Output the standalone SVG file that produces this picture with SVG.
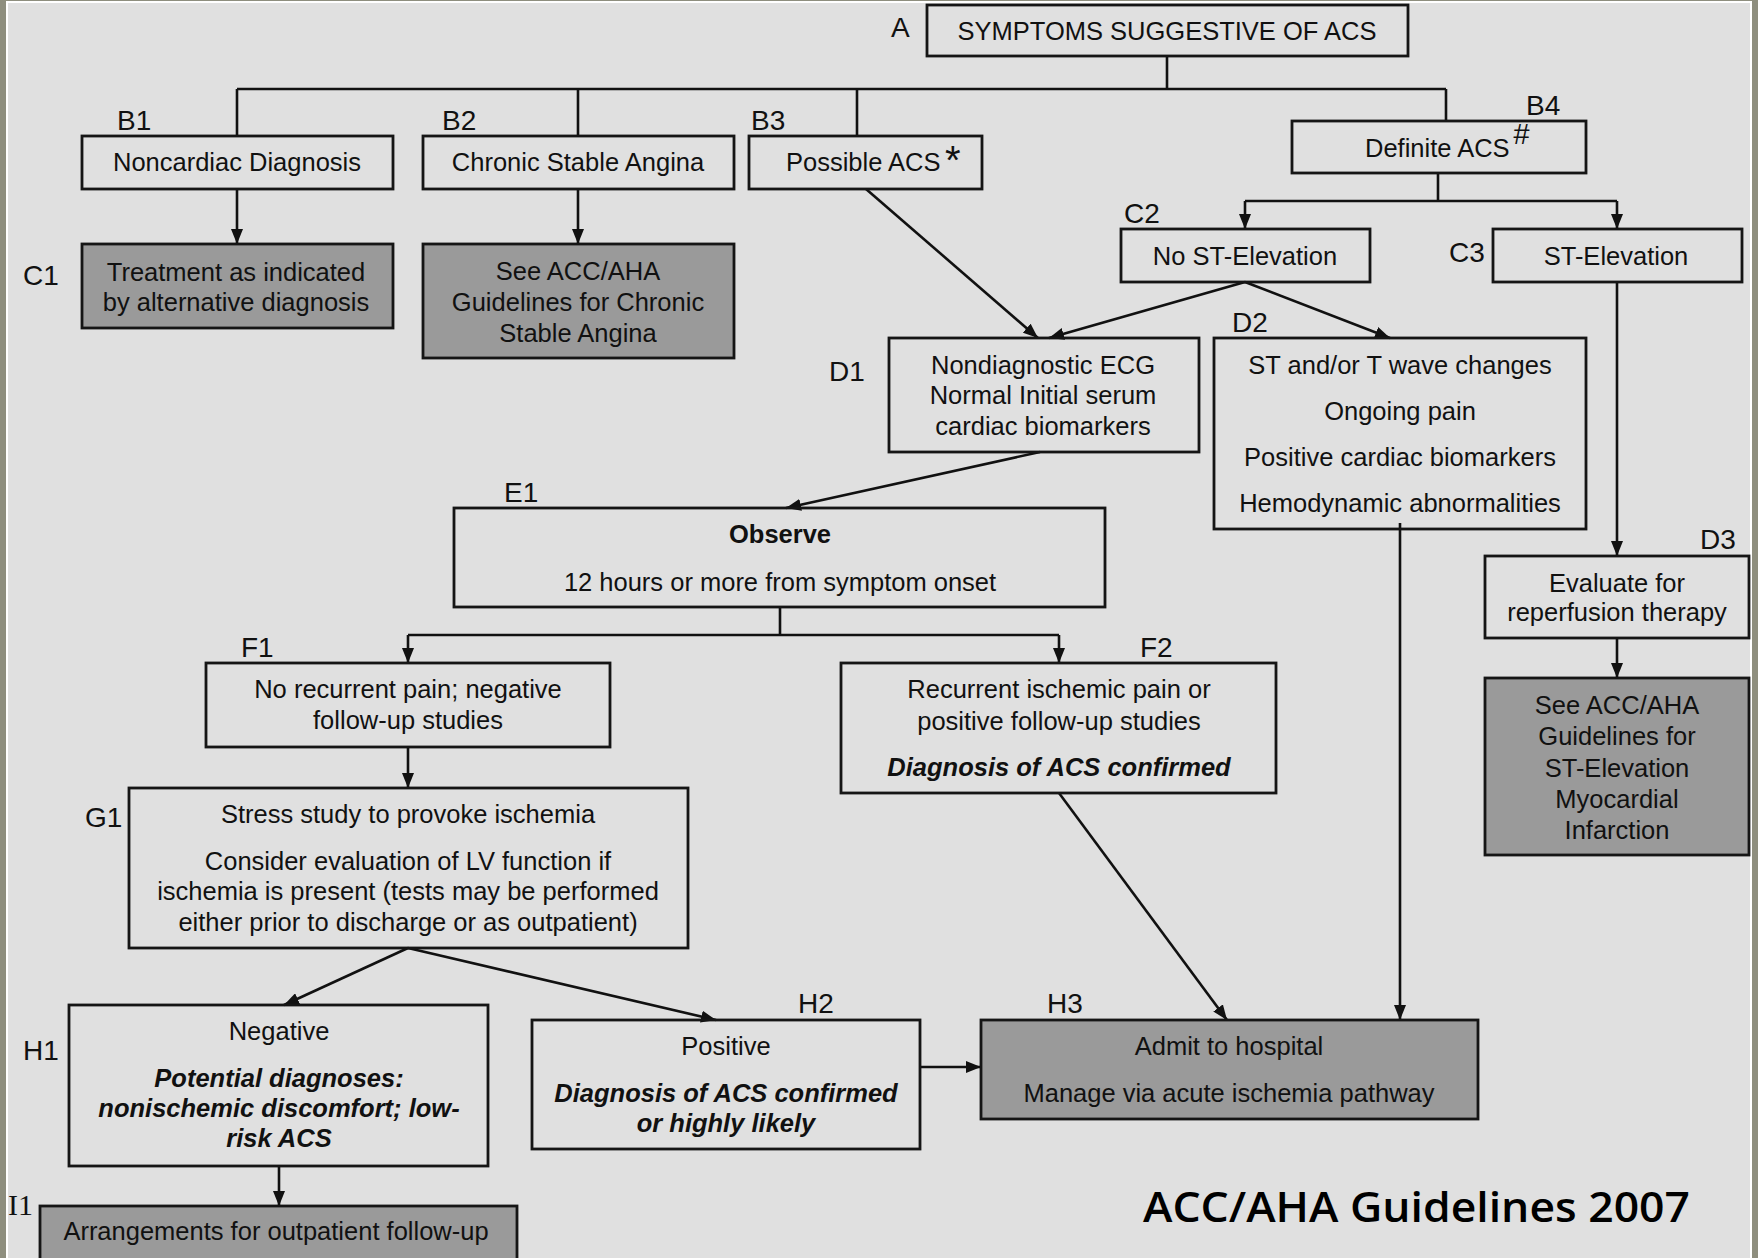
<svg xmlns="http://www.w3.org/2000/svg" width="1758" height="1258" viewBox="0 0 1758 1258">
<defs>
<marker id="arr" markerUnits="userSpaceOnUse" markerWidth="15" markerHeight="12" refX="15" refY="6" orient="auto">
<path d="M0,0 L15,6 L0,12 z" fill="#111"/>
</marker>
<style>
.box{fill:none;stroke:#151515;stroke-width:2.8}
.gbox{fill:#9a9a9a;stroke:#151515;stroke-width:2.8}
.t{font-family:"Liberation Sans",Arial,sans-serif;font-size:25.5px;fill:#111;text-anchor:middle}
.bi{font-weight:bold;font-style:italic}
.b{font-weight:bold}
.lbl{font-family:"Liberation Sans",Arial,sans-serif;font-size:28px;fill:#111}
.ln{fill:none;stroke:#111;stroke-width:2.6}
.la{fill:none;stroke:#111;stroke-width:2.6;marker-end:url(#arr)}
</style>
</defs>
<rect x="0" y="0" width="1758" height="1258" fill="#8e8e7e"/>
<rect x="6" y="1" width="1746" height="1257" fill="#ffffff"/>
<rect x="8" y="3" width="1742" height="1255" fill="#e0e0e0"/>

<g id="connectors">
<path class="ln" d="M1167,57 V89 M237,89 H1446 M237,89 V136 M578,89 V136 M857,89 V136 M1446,89 V121"/>
<path class="la" d="M237,189 V244"/>
<path class="la" d="M578,189 V244"/>
<path class="ln" d="M1438,173 V201 M1245,201 H1617"/>
<path class="la" d="M1245,201 V229"/>
<path class="la" d="M1617,201 V229"/>
<path class="la" d="M866,189 L1038,338"/>
<path class="la" d="M1245,282 L1049,338"/>
<path class="la" d="M1245,282 L1390,338"/>
<path class="la" d="M1617,282 V556"/>
<path class="la" d="M1617,638 V678"/>
<path class="la" d="M1040,452 L786,508"/>
<path class="ln" d="M780,607 V635 M408,635 H1059"/>
<path class="la" d="M408,635 V663"/>
<path class="la" d="M1059,635 V663"/>
<path class="la" d="M408,747 V788"/>
<path class="la" d="M408,948 L284,1005"/>
<path class="la" d="M408,948 L716,1020"/>
<path class="la" d="M279,1166 V1206"/>
<path class="la" d="M920,1067 H981"/>
<path class="la" d="M1059,793 L1227,1020"/>
<path class="la" d="M1400,523 V1020"/>
</g>

<g id="A">
<rect class="box" x="927" y="5" width="481" height="51"/>
<text class="lbl" x="891" y="37">A</text>
<text class="t" x="1167" y="40">SYMPTOMS SUGGESTIVE OF ACS</text>
</g>

<g id="B1">
<rect class="box" x="82" y="136" width="311" height="53"/>
<text class="lbl" x="117" y="130">B1</text>
<text class="t" x="237" y="171">Noncardiac Diagnosis</text>
</g>

<g id="B2">
<rect class="box" x="423" y="136" width="311" height="53"/>
<text class="lbl" x="442" y="130">B2</text>
<text class="t" x="578" y="171">Chronic Stable Angina</text>
</g>

<g id="B3">
<rect class="box" x="749" y="136" width="233" height="53"/>
<text class="lbl" x="751" y="130">B3</text>
<text class="t" x="786" y="171" style="text-anchor:start">Possible ACS</text>
<text class="t" x="945" y="174" style="text-anchor:start;font-size:40px">*</text>
</g>

<g id="B4">
<rect class="box" x="1292" y="121" width="294" height="52"/>
<text class="lbl" x="1526" y="115">B4</text>
<text class="t" x="1365" y="157" style="text-anchor:start">Definite ACS</text>
<text class="t" x="1513" y="144" style="text-anchor:start;font-style:italic;font-size:29px">#</text>
</g>

<g id="C1">
<rect class="gbox" x="82" y="244" width="311" height="84"/>
<text class="lbl" x="23" y="285">C1</text>
<text class="t" x="236" y="281">Treatment as indicated</text>
<text class="t" x="236" y="311">by alternative diagnosis</text>
</g>

<g id="C1b">
<rect class="gbox" x="423" y="244" width="311" height="114"/>
<text class="t" x="578" y="280">See ACC/AHA</text>
<text class="t" x="578" y="311">Guidelines for Chronic</text>
<text class="t" x="578" y="342">Stable Angina</text>
</g>

<g id="C2">
<rect class="box" x="1121" y="229" width="249" height="53"/>
<text class="lbl" x="1124" y="223">C2</text>
<text class="t" x="1245" y="265">No ST-Elevation</text>
</g>

<g id="C3">
<rect class="box" x="1493" y="229" width="249" height="53"/>
<text class="lbl" x="1449" y="262">C3</text>
<text class="t" x="1616" y="265">ST-Elevation</text>
</g>

<g id="D1">
<rect class="box" x="889" y="338" width="310" height="114"/>
<text class="lbl" x="829" y="381">D1</text>
<text class="t" x="1043" y="374">Nondiagnostic ECG</text>
<text class="t" x="1043" y="404">Normal Initial serum</text>
<text class="t" x="1043" y="435">cardiac biomarkers</text>
</g>

<g id="D2">
<rect class="box" x="1214" y="338" width="372" height="191"/>
<text class="lbl" x="1232" y="332">D2</text>
<text class="t" x="1400" y="374">ST and/or T wave changes</text>
<text class="t" x="1400" y="420">Ongoing pain</text>
<text class="t" x="1400" y="466">Positive cardiac biomarkers</text>
<text class="t" x="1400" y="512">Hemodynamic abnormalities</text>
</g>

<g id="D3">
<rect class="box" x="1485" y="556" width="264" height="82"/>
<text class="lbl" x="1700" y="549">D3</text>
<text class="t" x="1617" y="592">Evaluate for</text>
<text class="t" x="1617" y="621">reperfusion therapy</text>
</g>

<g id="D3b">
<rect class="gbox" x="1485" y="678" width="264" height="177"/>
<text class="t" x="1617" y="714">See ACC/AHA</text>
<text class="t" x="1617" y="745">Guidelines for</text>
<text class="t" x="1617" y="777">ST-Elevation</text>
<text class="t" x="1617" y="808">Myocardial</text>
<text class="t" x="1617" y="839">Infarction</text>
</g>

<g id="E1">
<rect class="box" x="454" y="508" width="651" height="99"/>
<text class="lbl" x="504" y="502">E1</text>
<text class="t b" x="780" y="543">Observe</text>
<text class="t" x="780" y="591">12 hours or more from symptom onset</text>
</g>

<g id="F1">
<rect class="box" x="206" y="663" width="404" height="84"/>
<text class="lbl" x="241" y="657">F1</text>
<text class="t" x="408" y="698">No recurrent pain; negative</text>
<text class="t" x="408" y="729">follow-up studies</text>
</g>

<g id="F2">
<rect class="box" x="841" y="663" width="435" height="130"/>
<text class="lbl" x="1140" y="657">F2</text>
<text class="t" x="1059" y="698">Recurrent ischemic pain or</text>
<text class="t" x="1059" y="730">positive follow-up studies</text>
<text class="t bi" x="1059" y="776">Diagnosis of ACS confirmed</text>
</g>

<g id="G1">
<rect class="box" x="129" y="788" width="559" height="160"/>
<text class="lbl" x="85" y="827">G1</text>
<text class="t" x="408" y="823">Stress study to provoke ischemia</text>
<text class="t" x="408" y="870">Consider evaluation of LV function if</text>
<text class="t" x="408" y="900">ischemia is present (tests may be performed</text>
<text class="t" x="408" y="931">either prior to discharge or as outpatient)</text>
</g>

<g id="H1">
<rect class="box" x="69" y="1005" width="419" height="161"/>
<text class="lbl" x="23" y="1060">H1</text>
<text class="t" x="279" y="1040">Negative</text>
<text class="t bi" x="279" y="1087">Potential diagnoses:</text>
<text class="t bi" x="279" y="1117">nonischemic discomfort; low-</text>
<text class="t bi" x="279" y="1147">risk ACS</text>
</g>

<g id="H2">
<rect class="box" x="532" y="1020" width="388" height="129"/>
<text class="lbl" x="798" y="1013">H2</text>
<text class="t" x="726" y="1055">Positive</text>
<text class="t bi" x="726" y="1102">Diagnosis of ACS confirmed</text>
<text class="t bi" x="726" y="1132">or highly likely</text>
</g>

<g id="H3">
<rect class="gbox" x="981" y="1020" width="497" height="99"/>
<text class="lbl" x="1047" y="1013">H3</text>
<text class="t" x="1229" y="1055">Admit to hospital</text>
<text class="t" x="1229" y="1102">Manage via acute ischemia pathway</text>
</g>

<g id="I1">
<rect class="gbox" x="40" y="1206" width="477" height="60"/>
<text x="8" y="1215" style="font-family:'Liberation Serif','Times New Roman',serif;font-size:30px;fill:#111">I1</text>
<text class="t" x="276" y="1240">Arrangements for outpatient follow-up</text>
</g>

<text x="1143" y="1222" textLength="547" lengthAdjust="spacingAndGlyphs" style="font-family:'Open Sans','DejaVu Sans',sans-serif;font-size:42px;font-weight:600;fill:#000">ACC/AHA Guidelines 2007</text>
</svg>
